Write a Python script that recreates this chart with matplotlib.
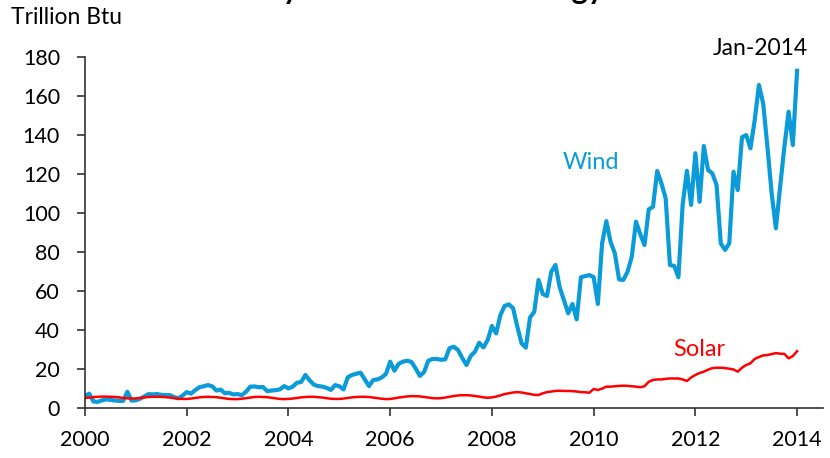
import numpy as np
import matplotlib
matplotlib.use('Agg')
import matplotlib.pyplot as plt

plt.rcParams['font.family'] = ['Lato', 'DejaVu Sans']

# Monthly values, Jan-2000 .. Jan-2014 (trillion Btu)
wind = [
    6.0, 7.2, 3.2, 3.0, 3.8, 4.3, 4.0, 3.7, 3.5, 3.5, 8.2, 3.6,              # 2000
    3.8, 4.6, 5.8, 7.0, 6.8, 7.0, 6.6, 6.4, 6.5, 5.5, 4.8, 6.2,              # 2001
    8.0, 7.2, 9.0, 10.5, 11.0, 11.6, 11.0, 8.8, 9.3, 7.4, 7.6, 6.8,          # 2002
    7.0, 6.4, 8.2, 10.8, 10.9, 10.5, 10.6, 8.5, 8.8, 9.0, 9.4, 11.1,         # 2003
    9.9, 10.8, 12.8, 13.2, 16.8, 14.0, 11.8, 11.1, 10.8, 10.2, 9.1, 11.6,    # 2004
    11.0, 9.4, 15.6, 16.8, 17.4, 18.0, 14.5, 11.1, 14.2, 14.5, 15.5, 17.3,   # 2005
    23.6, 19.0, 22.5, 23.6, 24.1, 23.5, 20.2, 16.3, 18.3, 24.1, 25.0, 25.0,  # 2006
    24.6, 24.8, 30.5, 31.3, 29.6, 25.5, 21.9, 26.5, 28.7, 33.3, 30.9, 34.7,  # 2007
    41.9, 38.1, 47.5, 52.2, 53.0, 51.0, 41.5, 33.0, 30.8, 46.3, 49.2, 65.5,  # 2008
    58.3, 57.3, 69.7, 73.2, 61.7, 55.0, 48.4, 53.2, 45.3, 66.9, 67.5, 68.0,  # 2009
    67.0, 53.2, 84.3, 95.7, 85.0, 79.2, 65.8, 65.5, 69.7, 77.4, 95.4, 89.0,  # 2010
    83.4, 101.7, 103.0, 121.4, 115.0, 107.4, 73.2, 72.7, 66.9, 104.0, 121.5, 104.0,  # 2011
    130.5, 105.6, 134.2, 121.9, 120.2, 114.2, 84.3, 80.9, 84.3, 121.0, 111.6, 138.7,  # 2012
    139.8, 133.0, 147.5, 165.5, 156.0, 133.8, 110.0, 92.0, 113.3, 133.8, 151.8, 134.7,  # 2013
    172.8,                                                                   # Jan-2014
]

solar = [
    5.0, 5.2, 5.4, 5.6, 5.7, 5.7, 5.6, 5.5, 5.3, 5.0, 4.8, 4.7,
    4.8, 5.0, 5.3, 5.5, 5.6, 5.6, 5.6, 5.4, 5.2, 4.9, 4.6, 4.5,
    4.5, 4.7, 5.0, 5.3, 5.5, 5.6, 5.5, 5.4, 5.1, 4.8, 4.5, 4.4,
    4.4, 4.6, 4.9, 5.2, 5.5, 5.6, 5.5, 5.4, 5.1, 4.8, 4.5, 4.4,
    4.5, 4.7, 5.0, 5.3, 5.5, 5.6, 5.6, 5.4, 5.2, 4.9, 4.6, 4.5,
    4.5, 4.7, 5.0, 5.3, 5.5, 5.6, 5.6, 5.5, 5.2, 4.9, 4.6, 4.4,
    4.5, 4.8, 5.2, 5.5, 5.8, 5.9, 5.9, 5.8, 5.5, 5.2, 4.9, 4.8,
    4.9, 5.2, 5.6, 6.0, 6.3, 6.4, 6.4, 6.3, 6.0, 5.7, 5.3, 5.1,
    5.3, 5.7, 6.3, 7.0, 7.4, 7.8, 8.0, 7.8, 7.4, 7.0, 6.6, 6.5,
    7.4, 8.0, 8.3, 8.6, 8.7, 8.6, 8.6, 8.5, 8.3, 8.0, 7.9, 7.7,
    9.6, 9.1, 9.8, 10.8, 10.8, 11.0, 11.2, 11.3, 11.2, 11.0, 10.8, 10.5,
    11.0, 13.3, 14.2, 14.5, 14.5, 14.8, 15.0, 15.0, 15.0, 14.5, 13.7, 15.5,
    16.8, 17.8, 18.5, 19.5, 20.3, 20.5, 20.5, 20.3, 20.0, 19.6, 18.5, 20.5,
    21.9, 22.8, 25.0, 26.0, 26.8, 27.0, 27.5, 28.0, 27.7, 27.6, 25.3, 26.5,
    29.0,
]

years = 2000 + np.arange(len(wind)) / 12.0
xticks = [2000, 2002, 2004, 2006, 2008, 2010, 2012, 2014]
yticks = list(range(0, 181, 20))

blue = '#0a9bd8'
red = '#ff0000'

fig = plt.figure(figsize=(8.3, 4.58), dpi=100)
ax = fig.add_axes([0.1024, 0.1098, 0.8892, 0.7664])

ax.plot(years, wind, color=blue, lw=3.0, solid_joinstyle='round')
ax.plot(years, solar, color=red, lw=1.8, solid_joinstyle='round')

ax.set_xlim(2000, 2014.51)
ax.set_ylim(0, 180)
ax.set_xticks(xticks)
ax.set_xticklabels([str(x) for x in xticks])
ax.set_yticks(yticks)

for s in ['top', 'right']:
    ax.spines[s].set_visible(False)
for s in ['left', 'bottom']:
    ax.spines[s].set_linewidth(1.2)
    ax.spines[s].set_color('#333333')
ax.tick_params(axis='both', labelsize=15.5, length=6, width=1.2, color='#333333')
ax.tick_params(axis='y', pad=12)
ax.tick_params(axis='x', pad=10)

ax.text(2009.95, 126, 'Wind', color=blue, fontsize=17, ha='center', va='center')
ax.text(2012.07, 30, 'Solar', color=red, fontsize=17, ha='center', va='center')
ax.text(2013.27, 184, 'Jan-2014', color='black', fontsize=16.5, ha='center', va='center')

fig.text(0.013, 0.962, 'Trillion Btu', fontsize=16.5, ha='left', va='center')
# chart title, mostly cut off at the top edge
fig.text(0.474, 1.003, 'Monthly wind and solar energy', fontsize=22, fontweight='bold',
         ha='center', va='baseline')

fig.savefig('out.png', dpi=100)
